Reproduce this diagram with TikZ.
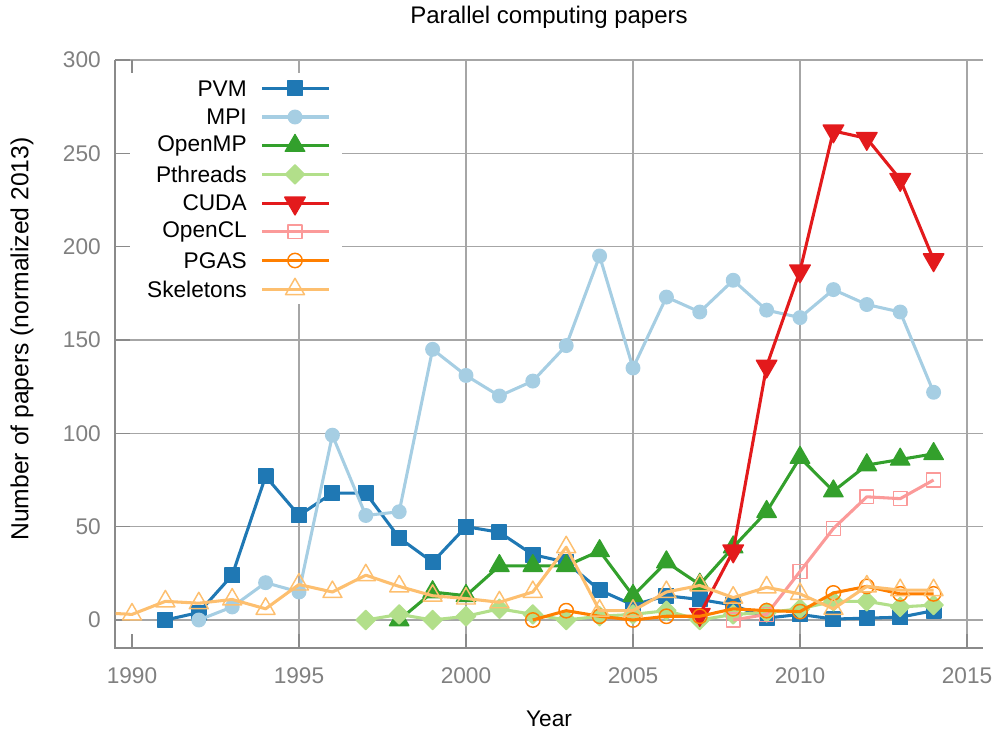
\documentclass[tikz,border=0pt]{standalone}
\usepackage{fontspec}
\setmainfont{Liberation Sans}
\usepackage{xcolor}
\usetikzlibrary{plotmarks}
\definecolor{pvm}{HTML}{1F78B4}
\definecolor{mpi}{HTML}{A6CEE3}
\definecolor{omp}{HTML}{33A02C}
\definecolor{pth}{HTML}{B2DF8A}
\definecolor{cuda}{HTML}{E31A1C}
\definecolor{ocl}{HTML}{FB9A99}
\definecolor{pgas}{HTML}{FF7F00}
\definecolor{skel}{HTML}{FDBF6F}
\definecolor{axgrey}{HTML}{8A8A8A}
\definecolor{grdgrey}{HTML}{A6A6A6}
\definecolor{lblgrey}{HTML}{808080}
\tikzset{
  grd/.style={draw=grdgrey, line width=0.8pt},
  axl/.style={draw=axgrey, line width=1.1pt},
  tlab/.style={font=\fontsize{17}{20}\selectfont, text=lblgrey, inner sep=0pt},
  capt/.style={font=\fontsize{17}{20}\selectfont, inner sep=0pt},
  serie/.style={line width=2.3pt, line join=round, every mark/.append style={solid, line width=1pt}},
  pvmln/.style={serie, color=pvm, mark=square*, mark size=5.5pt},
  mpiln/.style={serie, color=mpi, mark=*, mark size=5.1pt},
  ompln/.style={serie, color=omp, mark=triangle*, mark size=8.4pt},
  pthln/.style={serie, color=pth, mark=square*, mark size=5.1pt, every mark/.append style={rotate=45}},
  cudaln/.style={serie, color=cuda, mark=triangle*, mark size=8.9pt, every mark/.append style={rotate=180}},
  oclln/.style={serie, color=ocl, mark=square, mark size=5.2pt, every mark/.append style={line width=1.1pt}},
  pgasln/.style={serie, color=pgas, mark=o, mark size=5.4pt, every mark/.append style={line width=1.1pt}},
  skelln/.style={serie, color=skel, mark=triangle, mark size=8.2pt, every mark/.append style={line width=1.1pt}},
}

\begin{document}
\begin{tikzpicture}[x=0.75pt, y=-0.75pt]
\useasboundingbox (0,0) rectangle (996,731);

% --- grid, axes, ticks ---
\foreach \v in {0,50,...,300} {
  \draw[grd] (115,{620-1.8667*\v}) -- (983,{620-1.8667*\v});
  \draw[axl] (115,{620-1.8667*\v}) -- (130,{620-1.8667*\v});
  \node[tlab, anchor=east] (yl\v) at (101,{620-1.8667*\v}) {\v};
}
\foreach \yr in {1995,2000,...,2015}
  \draw[grd] ({132+33.4*(\yr-1990)},60) -- ({132+33.4*(\yr-1990)},648);
\foreach \yr in {1990,1995,...,2015} {
  \draw[axl] ({132+33.4*(\yr-1990)},648) -- ({132+33.4*(\yr-1990)},634);
  \node[tlab] (xl\yr) at ({132+33.4*(\yr-1990)},676) {\yr};
}
\draw[axl] (132,60) -- (132,74);
\draw[axl] (115,60) -- (115,648) -- (983,648);

\node[capt, font=\fontsize{18}{21}\selectfont] (title) at (549,17) {Parallel computing papers};
\node[capt] (xlab) at (549,719) {Year};
\node[capt, font=\fontsize{18.5}{22}\selectfont, rotate=90] (ylab) at (22,339) {Number of papers (normalized 2013)};

% --- legend ---
\fill[white] (130,73) rectangle (342,304);
\foreach \s/\t [count=\i] in {pvmln/PVM, mpiln/MPI, ompln/OpenMP, pthln/Pthreads,
    cudaln/CUDA, oclln/OpenCL, pgasln/PGAS, skelln/Skeletons} {
  \node[capt, anchor=east] (leg\i) at (247,{88.3+28.7*(\i-1)}) {\t};
  \draw[\s, mark indices={2}] plot coordinates
    {(262,{88.3+28.7*(\i-1)}) (295,{88.3+28.7*(\i-1)}) (329,{88.3+28.7*(\i-1)})};
}

% --- series (years from 1990) ---
\begin{scope}[shift={(132,620)}, x=25.05pt, y=1.4pt]
\clip (-0.49,-15) rectangle (25.5,302);
\draw[pvmln] plot coordinates {(1,0) (2,4) (3,24) (4,77) (5,56) (6,68) (7,68) (8,44)
  (9,31) (10,50) (11,47) (12,35) (13,31) (14,16) (15,8) (16,13) (17,11) (18,8)
  (19,1) (20,3) (21,0.5) (22,1) (23,1.5) (24,5)};
\draw[mpiln] plot coordinates {(2,0) (3,7) (4,20) (5,15) (6,99) (7,56) (8,58) (9,145)
  (10,131) (11,120) (12,128) (13,147) (14,195) (15,135) (16,173) (17,165) (18,182)
  (19,166) (20,162) (21,177) (22,169) (23,165) (24,122)};
\draw[ompln] plot coordinates {(8,0) (9,15) (10,13) (11,29) (12,29) (13,29) (14,37)
  (15,13) (16,31) (17,19) (18,39) (19,58) (20,87) (21,69) (22,83) (23,86) (24,89)};
\draw[pthln] plot coordinates {(7,0) (8,3) (9,0) (10,2) (11,6) (12,3) (13,0) (14,2)
  (15,3) (16,5) (17,0) (18,3) (19,4) (20,6) (21,10) (22,10) (23,7) (24,8)};
\draw[cudaln] plot coordinates {(17,3) (18,37) (19,136) (20,187) (21,262) (22,258)
  (23,236) (24,193)};
\draw[oclln] plot coordinates {(18,0) (19,3) (20,26) (21,49) (22,66) (23,65) (24,75)};
\draw[pgasln] plot coordinates {(12,0) (13,5) (14,2) (15,0) (16,2) (17,2) (18,6)
  (19,5) (20,4.5) (21,14.5) (22,18) (23,14) (24,14)};
\draw[skelln] plot coordinates {(-1,4) (0,3) (1,10) (2,9) (3,11) (4,6) (5,19) (6,15)
  (7,24) (8,18) (9,13) (10,11.5) (11,9.5) (12,15) (13,39) (14,5) (15,5) (16,15)
  (17,18.5) (18,12) (19,17.5) (20,14) (21,6) (22,18) (23,16) (24,16)};
\end{scope}

\end{tikzpicture}
\end{document}
